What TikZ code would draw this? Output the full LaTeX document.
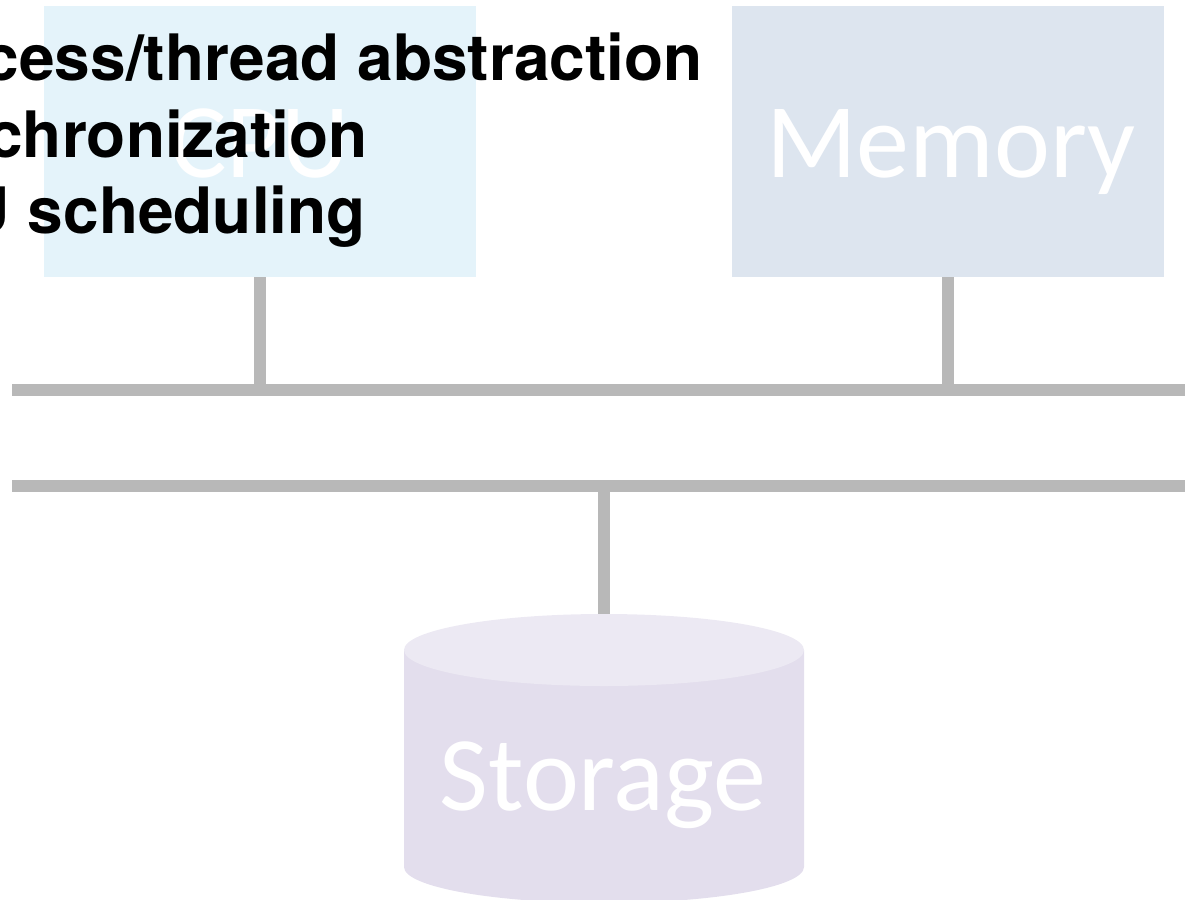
\documentclass[tikz,border=0pt]{standalone}
\usepackage{fontspec}
\newfontfamily\headfont{TeX Gyre Heros}
\newfontfamily\boxfont{Carlito}
\definecolor{cpufill}{RGB}{228,243,250}
\definecolor{memfill}{RGB}{221,229,239}
\definecolor{diskbody}{RGB}{227,222,237}
\definecolor{disktop}{RGB}{236,233,243}
\definecolor{wiregray}{RGB}{184,184,184}
\tikzset{
  unitbox/.style={rectangle, draw=none, inner sep=0pt, minimum width=432pt, minimum height=271pt},
  boxlabel/.style={anchor=base, inner sep=0pt, text=white, font=\boxfont\fontsize{106}{106}\selectfont},
  topic/.style={anchor=base east, inner sep=0pt, text=black, font=\headfont\bfseries\fontsize{64}{77}\selectfont},
  wire/.style={draw=wiregray, line width=12pt, line cap=butt},
}
\begin{document}
\begin{tikzpicture}[x=1pt, y=-1pt]
  \useasboundingbox (0,0) rectangle (1185,899);

  % processor and memory units
  \node[unitbox, fill=cpufill] (cpu) at (260,141.5) {};
  \node[unitbox, fill=memfill] (mem) at (948,141.5) {};

  % the two bus lines
  \coordinate (busAw) at (12,390);
  \coordinate (busAe) at (1200,390);
  \coordinate (busBw) at (12,486);
  \coordinate (busBe) at (1200,486);
  \draw[wire] (busAw) -- (busAe);
  \draw[wire] (busBw) -- (busBe);

  % storage cylinder
  \node[rectangle, draw=none, inner sep=0pt, minimum width=400pt, minimum height=289pt] (disk) at (604,758.5) {};
  \fill[diskbody] (404,650) -- (404,867)
      arc[start angle=180, end angle=360, x radius=200pt, y radius=36pt]
      -- (804,650) -- cycle;
  \fill[disktop] (604,650) ellipse [x radius=200pt, y radius=36pt];

  % taps from the units to the buses
  \draw[wire] (cpu.south) -- (cpu.south |- busAw);
  \draw[wire] (mem.south) -- (mem.south |- busAw);
  \draw[wire] (disk.north) -- (disk.north |- busBw);

  % unit labels
  \node[boxlabel] (cpulbl) at (260,177) {CPU};
  \node[boxlabel] (memlbl) at (951,177) {Memory};
  \node[boxlabel] (disklbl) at (603,810) {Storage};

  % topic list
  \node[topic] (t1) at (703,80) {Process/thread abstraction};
  \node[topic] (t2) at (368,157) {Synchronization};
  \node[topic] (t3) at (366,233) {CPU scheduling};
\end{tikzpicture}
\end{document}
